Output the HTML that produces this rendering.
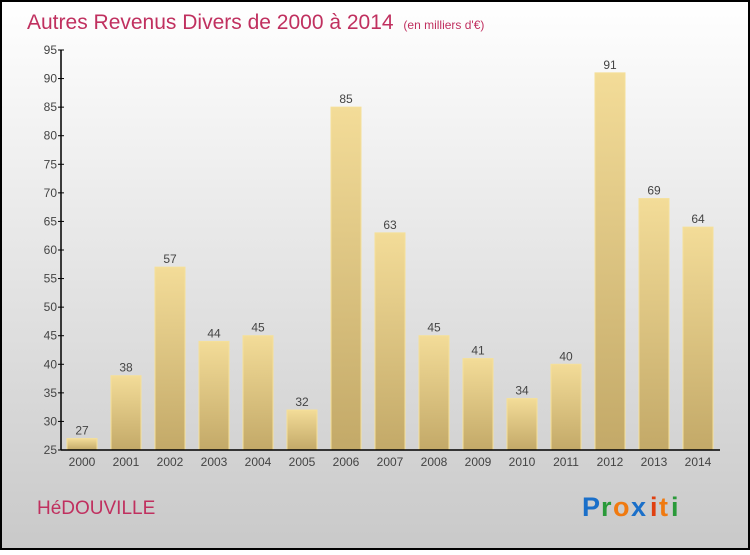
<!DOCTYPE html>
<html><head><meta charset="utf-8"><style>
html,body{margin:0;padding:0}
body{width:750px;height:550px;overflow:hidden;font-family:"Liberation Sans",sans-serif}
</style></head><body>
<svg width="750" height="550" xmlns="http://www.w3.org/2000/svg">
<defs>
<linearGradient id="bg" x1="0" y1="0" x2="0" y2="1"><stop offset="0" stop-color="#ffffff"/><stop offset="1" stop-color="#c9c9c9"/></linearGradient>
<linearGradient id="bar" x1="0" y1="0" x2="0" y2="1"><stop offset="0" stop-color="#f3dc98"/><stop offset="1" stop-color="#c3a968"/></linearGradient>
</defs>
<rect x="1" y="1" width="748" height="548" fill="url(#bg)" stroke="#000" stroke-width="2"/>
<text x="27" y="29" font-size="21" fill="#c0305f">Autres Revenus Divers de 2000 à 2014 <tspan font-size="12" dx="4">(en milliers d'€)</tspan></text>
<g id="plot"></g>
<text x="37" y="514" font-size="19" fill="#c0305f">HéDOUVILLE</text>
<g font-size="27" font-weight="bold">
<text x="582" y="516" fill="#1a6fc9">P</text><text x="601" y="516" fill="#2a9a3a">r</text><text x="613" y="516" fill="#f07a10">o</text><text x="631" y="516" fill="#1a6fc9">x</text><text x="650" y="516" fill="#e04010">i</text><text x="659" y="516" fill="#f07a10">t</text><text x="671" y="516" fill="#2a9a3a">i</text>
</g>
</svg>
<script>
const categories=["2000","2001","2002","2003","2004","2005","2006","2007","2008","2009","2010","2011","2012","2013","2014"];
const values=[27,38,57,44,45,32,85,63,45,41,34,40,91,69,64];
const yTicks=[25,30,35,40,45,50,55,60,65,70,75,80,85,90,95];
const NS="http://www.w3.org/2000/svg";
const g=document.getElementById('plot');
const x0=61,x1=720,yTop=50,yBot=450,yMin=25,yMax=95;
const y=v=>yBot-(v-yMin)/(yMax-yMin)*(yBot-yTop);
const step=44,bw=30,first=67;
const xb=i=>first+i*step;
function el(t,a,txt){const e=document.createElementNS(NS,t);for(const k in a)e.setAttribute(k,a[k]);if(txt!==undefined)e.textContent=txt;g.appendChild(e);return e;}
values.forEach((v,i)=>{
 const r=el('rect',{x:xb(i),y:y(v),width:bw,height:yBot-y(v),fill:'url(#bar)',stroke:'#f5e09a','stroke-width':1});
 
 
 const t=el('text',{x:xb(i)+bw/2,y:y(v)-4,'text-anchor':'middle','font-size':12,fill:'#444'},String(v));
 
 
 const c=el('text',{x:xb(i)+bw/2,y:466,'text-anchor':'middle','font-size':12,fill:'#444'},categories[i]);
 
 
});
yTicks.forEach(v=>{
 const l=el('line',{x1:x0-3,x2:x0+3,y1:y(v),y2:y(v),stroke:'#000'});
 
 
 const t=el('text',{x:x0-4,y:y(v)+4,'text-anchor':'end','font-size':12,fill:'#444'},String(v));
 
 
});
const ya=el('line',{x1:x0,x2:x0,y1:yTop,y2:yBot,stroke:'#000','stroke-width':1.5});


const xa=el('line',{x1:x0,x2:x1,y1:yBot,y2:yBot,stroke:'#000','stroke-width':1.5});


</script>
</body></html>
